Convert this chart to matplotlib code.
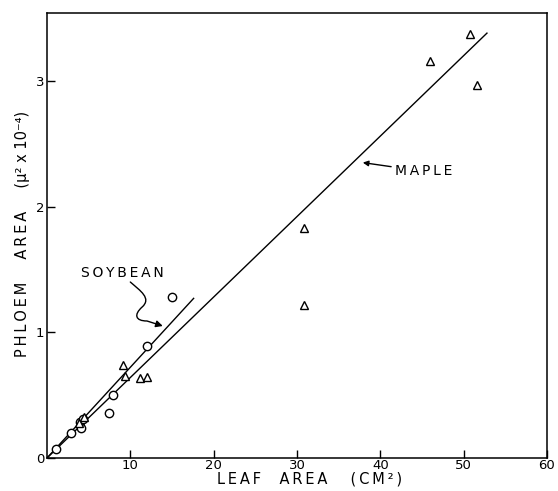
import matplotlib
matplotlib.use("Agg")
import matplotlib.pyplot as plt
from matplotlib.path import Path
from matplotlib.patches import FancyArrowPatch

# soybean (open circles)
soy_x = [1.1, 2.9, 4.0, 4.1, 4.3, 7.4, 7.9, 12.0, 15.0]
soy_y = [0.07, 0.20, 0.29, 0.24, 0.31, 0.36, 0.50, 0.89, 1.28]

# maple (open triangles)
maple_x = [3.9, 4.5, 9.1, 9.4, 11.2, 12.0, 30.8, 30.8, 46.0, 50.8, 51.6]
maple_y = [0.28, 0.33, 0.74, 0.65, 0.64, 0.645, 1.22, 1.83, 3.16, 3.37, 2.97]

# fitted lines
soy_fit_x = [0, 17.6]
soy_fit_y = [0, 1.27]
maple_fit_x = [0, 52.8]
maple_fit_y = [0, 3.38]

x_ticks = [10, 20, 30, 40, 50, 60]
y_ticks = [0, 1, 2, 3]


def spaced(s):
    # old lettering-guide look: thin space between letters
    return "\u2009".join(s)


plt.rcParams.update({
    "font.family": "DejaVu Sans",
    "axes.linewidth": 1.1,
})

fig = plt.figure(figsize=(5.58, 4.91), dpi=100)
ax = fig.add_axes([0.0842, 0.0672, 0.8960, 0.9063])

ax.plot(maple_fit_x, maple_fit_y, color="black", lw=1.0)
ax.plot(soy_fit_x, soy_fit_y, color="black", lw=1.0)
ax.plot(soy_x, soy_y, "o", mfc="white", mec="black", mew=1.0, ms=6, ls="none")
ax.plot(maple_x, maple_y, "^", mfc="white", mec="black", mew=1.0, ms=6, ls="none")

ax.set_xlim(0, 60)
ax.set_ylim(0, 3.54)
ax.set_xticks(x_ticks)
ax.set_xticklabels([str(t) for t in x_ticks])
ax.set_yticks(y_ticks)
ax.set_yticklabels([str(t) for t in y_ticks])
ax.tick_params(direction="in", length=6, width=1, labelsize=9.5, pad=2)
ax.tick_params(axis="x", pad=1)

ax.set_xlabel(spaced("LEAF") + "    " + spaced("AREA") + "     " + spaced("(CM²)"),
              fontsize=10.5, va="baseline")
ax.xaxis.set_label_coords(0.526, -0.058)
ax.set_ylabel(spaced("PHLOEM") + "     " + spaced("AREA") + "     (μ² x 10⁻⁴)",
              fontsize=10.5, va="center")
ax.yaxis.set_label_coords(-0.048, 0.503)

# MAPLE label with straight arrow
ax.annotate(spaced("MAPLE"), xy=(37.9, 2.35), xytext=(41.8, 2.28), fontsize=10,
            va="center", ha="left",
            arrowprops=dict(arrowstyle="-|>", color="black", lw=1.0,
                            mutation_scale=8, shrinkA=1, shrinkB=0))

# SOYBEAN label with squiggly arrow
ax.text(9.1, 1.47, spaced("SOYBEAN"), fontsize=10, ha="center", va="center")
verts = [(10.0, 1.40), (11.2, 1.33), (12.6, 1.27), (11.4, 1.20),
         (10.4, 1.14), (10.6, 1.09), (12.0, 1.09), (13.9, 1.05)]
codes = [Path.MOVETO, Path.CURVE4, Path.CURVE4, Path.CURVE4,
         Path.CURVE4, Path.CURVE4, Path.CURVE4, Path.LINETO]
squiggle = FancyArrowPatch(path=Path(verts, codes), arrowstyle="-|>",
                           mutation_scale=10, color="black", lw=1.0)
ax.add_patch(squiggle)

fig.savefig("out.png", dpi=100)
